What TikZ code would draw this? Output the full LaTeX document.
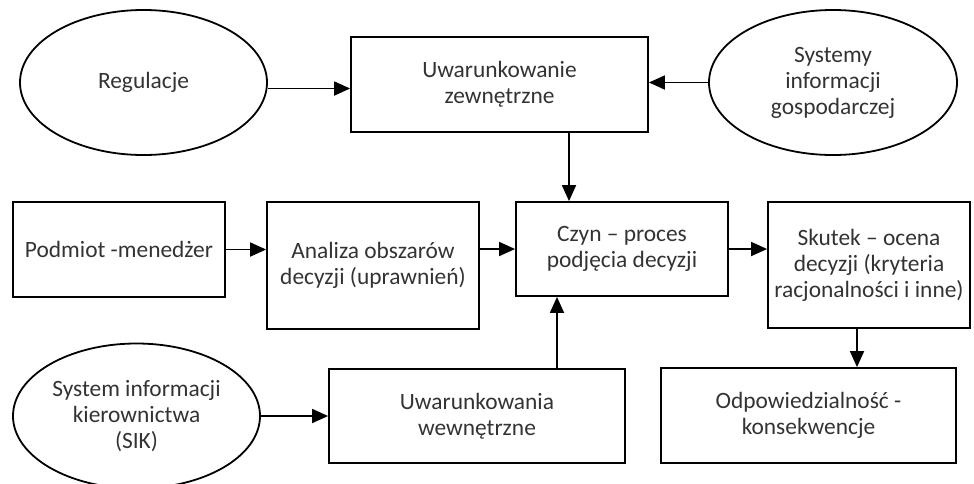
\documentclass[tikz,border=0pt]{standalone}
\usepackage{fontspec}
\setmainfont{Carlito}
\usetikzlibrary{shapes.geometric,arrows.meta}

\begin{document}
\begin{tikzpicture}[x=0.5pt,y=-0.5pt,
    font=\fontsize{11.7}{13}\selectfont,
    every node/.style={text=black!80, align=center, inner sep=0pt, line width=0.9pt},
    box/.style={draw, rectangle},
    oval/.style={draw, ellipse},
    arr/.style={line width=0.9pt, -{Triangle[length=8pt,width=7pt]}}]
      \useasboundingbox (0, 0) rectangle (974, 483);

      % top row
      \node[oval, minimum width=123.5pt, minimum height=72.5pt] (reg) at (143.5, 82.5) {Regulacje};
      \node[box, minimum width=148.5pt, minimum height=47.5pt] (uz) at (499.5, 84.5) {Uwarunkowanie\\zewnętrzne};
      \node[oval, minimum width=124pt, minimum height=72.5pt] (sig) at (833, 82.5) {Systemy\\informacji\\gospodarczej};

      % middle row
      \node[box, minimum width=106pt, minimum height=47.5pt] (pm) at (119, 249.5) {Podmiot -menedżer};
      \node[box, minimum width=106pt, minimum height=63.5pt] (an) at (373, 265.5) {Analiza obszarów\\decyzji (uprawnień)};
      \node[box, minimum width=106pt, minimum height=47pt] (czyn) at (622, 249) {Czyn -- proces\\podjęcia decyzji};
      \node[box, minimum width=101pt, minimum height=63pt] (sk) at (869, 265) {Skutek -- ocena\\decyzji (kryteria\\racjonalności i inne)};

      % bottom row
      \node[oval, minimum width=123.5pt, minimum height=72.5pt] (sik) at (136.5, 416) {System informacji\\kierownictwa\\(SIK)};
      \node[box, minimum width=148pt, minimum height=47pt] (uw) at (477, 416) {Uwarunkowania\\wewnętrzne};
      \node[box, minimum width=147.5pt, minimum height=47.5pt] (odp) at (808.5, 415.5) {Odpowiedzialność -\\konsekwencje};

      % arrows
      \draw[arr] ([yshift=-3pt]reg.east) -- ([yshift=-3pt]reg.east -| uz.west);
      \draw[arr] (sig.west) -- (sig.west -| uz.east);
      \draw[arr] ([xshift=34.75pt]uz.south) -- ([xshift=34.75pt]uz.south |- czyn.north);
      \draw[arr] (pm.east) -- (pm.east -| an.west);
      \draw[arr] (czyn.west -| an.east) -- (czyn.west);
      \draw[arr] (czyn.east) -- (czyn.east -| sk.west);
      \draw[arr] ([xshift=-6pt]sk.south) -- ([xshift=-6pt]sk.south |- odp.north);
      \draw[arr] ([xshift=40pt]uw.north) -- ([xshift=40pt]uw.north |- czyn.south);
      \draw[arr] (sik.east) -- (sik.east -| uw.west);
\end{tikzpicture}
\end{document}
